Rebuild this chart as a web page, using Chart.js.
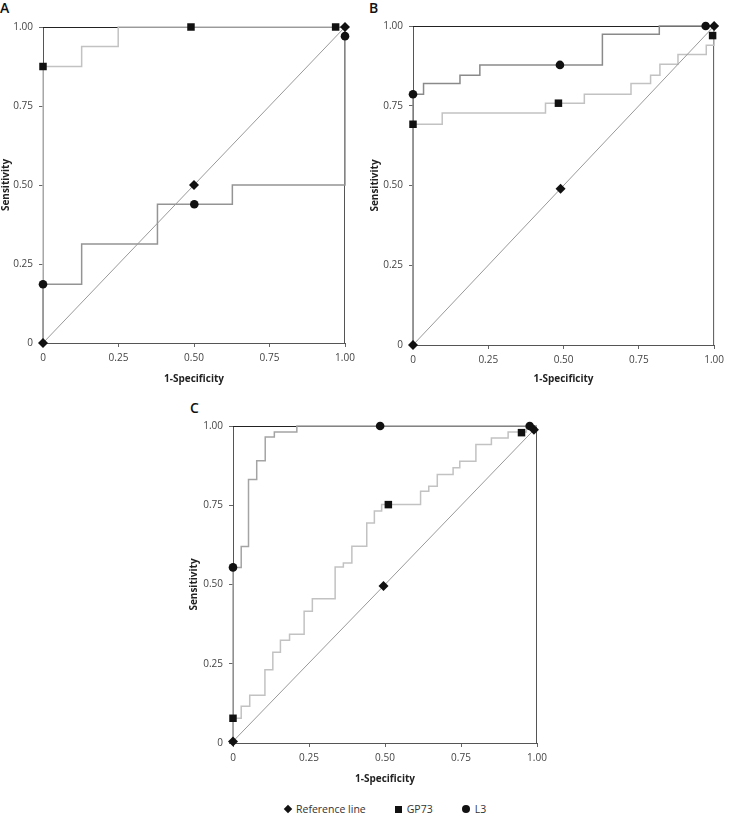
<!DOCTYPE html>
<html lang="en">
<head>
<meta charset="UTF-8">
<title>ROC curves - GP73 and L3</title>
<script src="https://cdn.jsdelivr.net/npm/chart.js"></script>
<style>
  html, body { margin: 0; padding: 0; background: #fff; overflow: hidden; }
  body { width: 729px; height: 815px; position: relative; font-family: "Open Sans", sans-serif; }
  canvas { position: absolute; }
  .tag { position: absolute; font-size: 14px; font-weight: 600; line-height: 14px; color: #111; }
  .legend { position: absolute; left: 285px; top: 802px; height: 14px; display: flex; align-items: center; font-size: 10.5px; color: #333; }
  .legend .item { display: flex; align-items: center; margin-right: 29px; }
  .mk { display: inline-block; background: #111; margin-right: 5px; }
  .mk.diamond { width: 6px; height: 6px; transform: rotate(45deg); }
  .mk.square { width: 7px; height: 7px; }
  .mk.circle { width: 8px; height: 8px; border-radius: 50%; }
</style>
</head>
<body>
  <div class="tag" style="left:0;top:1px">A</div>
  <div class="tag" style="left:369px;top:1px">B</div>
  <div class="tag" style="left:190px;top:401px">C</div>

  <canvas id="rocA" width="365" height="385" style="left:0;top:0"></canvas>
  <canvas id="rocB" width="360" height="385" style="left:369px;top:0"></canvas>
  <canvas id="rocC" width="370" height="395" style="left:188px;top:390px"></canvas>

  <div class="legend">
    <span class="item"><span class="mk diamond"></span>Reference line</span>
    <span class="item"><span class="mk square"></span>GP73</span>
    <span class="item"><span class="mk circle"></span>L3</span>
  </div>

<script>
// tick labels (same on both axes)
const tickLabels = ['0', '0.25', '0.50', '0.75', '1.00'];

// --- Panel A ---
const refA_x = [0, 0.5, 1];
const refA_y = [0, 0.5, 1];
const gpA_x = [0, 0, 0.128, 0.249, 1];
const gpA_y = [0, 0.875, 0.938, 1, 1];
const l3A_x = [0, 0, 0.128, 0.379, 0.627, 1];
const l3A_y = [0, 0.186, 0.313, 0.439, 0.5, 1];
const gpMarkA_x = [0, 0.49, 0.969];
const gpMarkA_y = [0.875, 1, 1];
const l3MarkA_x = [0, 0.501, 1];
const l3MarkA_y = [0.186, 0.439, 0.971];

// --- Panel B ---
const refB_x = [0, 0.49, 1];
const refB_y = [0, 0.49, 1];
const gpB_x = [0, 0, 0.097, 0.44, 0.569, 0.724, 0.789, 0.82, 0.88, 0.974, 1];
const gpB_y = [0, 0.692, 0.727, 0.758, 0.786, 0.82, 0.846, 0.88, 0.911, 0.94, 1];
const l3B_x = [0, 0, 0.035, 0.156, 0.222, 0.629, 0.818, 1];
const l3B_y = [0, 0.786, 0.82, 0.846, 0.878, 0.974, 1, 1];
const gpMarkB_x = [0, 0.483, 0.995];
const gpMarkB_y = [0.692, 0.758, 0.97];
const l3MarkB_x = [0, 0.488, 0.972];
const l3MarkB_y = [0.786, 0.878, 1];

// --- Panel C ---
const refC_x = [0, 0.495, 0.99];
const refC_y = [0.005, 0.495, 0.988];
const gpC_x = [0, 0, 0.027, 0.055, 0.105, 0.131, 0.156, 0.186, 0.234, 0.261, 0.336, 0.363, 0.391,
               0.44, 0.465, 0.489, 0.617, 0.644, 0.672, 0.724, 0.746, 0.799, 0.85, 0.905, 0.965, 1];
const gpC_y = [0, 0.078, 0.116, 0.151, 0.231, 0.286, 0.324, 0.343, 0.416, 0.455, 0.555, 0.568, 0.621,
               0.694, 0.732, 0.752, 0.794, 0.81, 0.847, 0.868, 0.889, 0.942, 0.962, 0.981, 1, 1];
const l3C_x = [0, 0, 0.027, 0.051, 0.078, 0.106, 0.136, 0.21, 1];
const l3C_y = [0, 0.554, 0.62, 0.831, 0.89, 0.965, 0.981, 1, 1];
const gpMarkC_x = [0, 0.511, 0.949];
const gpMarkC_y = [0.078, 0.752, 0.979];
const l3MarkC_x = [0, 0.484, 0.976];
const l3MarkC_y = [0.554, 1, 1];

const pts = (xs, ys) => xs.map((x, i) => ({ x: x, y: ys[i] }));

// top and right edges of the plot box
const framePlugin = {
    id: 'frame',
    beforeDatasetsDraw(chart) {
        const a = chart.chartArea, ctx = chart.ctx;
        ctx.save();
        ctx.lineWidth = 1;
        ctx.strokeStyle = '#222';
        ctx.beginPath();
        ctx.moveTo(a.left, a.top + 0.5);
        ctx.lineTo(a.right, a.top + 0.5);
        ctx.stroke();
        ctx.strokeStyle = '#555';
        ctx.beginPath();
        ctx.moveTo(a.right - 0.5, a.top);
        ctx.lineTo(a.right - 0.5, a.bottom);
        ctx.stroke();
        ctx.restore();
    }
};

function axis(title, fitSize, isX) {
    return {
        type: 'linear',
        min: 0,
        max: 1,
        grid: { drawOnChartArea: false, drawTicks: true, tickLength: 4, color: '#666' },
        border: { display: true, color: '#555', width: 1 },
        ticks: {
            stepSize: 0.25,
            autoSkip: false,
            maxRotation: 0,
            padding: isX ? 5 : 6,
            color: '#444',
            font: { family: 'Open Sans', size: 10 },
            callback: (v, i) => tickLabels[i]
        },
        title: {
            display: true,
            text: title,
            color: '#222',
            padding: 0,
            font: { family: 'Open Sans', size: 10, weight: 'bold' }
        },
        afterFit: s => { if (isX) s.height = fitSize; else s.width = fitSize; }
    };
}

function makePanel(id, d) {
    new Chart(document.getElementById(id), {
        type: 'line',
        data: {
            datasets: [
                { label: 'L3', data: pts(d.l3mx, d.l3my), showLine: false, pointStyle: 'circle',
                  pointRadius: 4.3, pointBackgroundColor: '#111', pointBorderWidth: 0, clip: false },
                { label: 'GP73', data: pts(d.gpmx, d.gpmy), showLine: false, pointStyle: 'rect',
                  pointRadius: 5.3, pointBackgroundColor: '#111', pointBorderWidth: 0, clip: false },
                { label: 'Reference line', data: pts(d.rx, d.ry), borderColor: '#999', borderWidth: 1,
                  pointStyle: 'rectRot', pointRadius: 5, pointBackgroundColor: '#111', pointBorderWidth: 0,
                  clip: false },
                { label: 'L3 curve', data: pts(d.l3x, d.l3y), stepped: true, borderColor: d.l3Color,
                  borderWidth: 1.5, pointRadius: 0, clip: false },
                { label: 'GP73 curve', data: pts(d.gpx, d.gpy), stepped: true, borderColor: '#c2c2c2',
                  borderWidth: 1.5, pointRadius: 0, clip: false }
            ]
        },
        options: {
            responsive: false,
            animation: false,
            layout: { padding: d.pad },
            plugins: { legend: { display: false }, tooltip: { enabled: false } },
            scales: {
                x: axis('1-Specificity', d.xh, true),
                y: axis('Sensitivity', d.yw, false)
            }
        },
        plugins: [framePlugin]
    });
}

makePanel('rocA', {
    rx: refA_x, ry: refA_y, gpx: gpA_x, gpy: gpA_y, l3x: l3A_x, l3y: l3A_y,
    gpmx: gpMarkA_x, gpmy: gpMarkA_y, l3mx: l3MarkA_x, l3my: l3MarkA_y, l3Color: '#949494',
    pad: { top: 27, right: 20, left: 0, bottom: 0 }, xh: 42, yw: 43
});
makePanel('rocB', {
    rx: refB_x, ry: refB_y, gpx: gpB_x, gpy: gpB_y, l3x: l3B_x, l3y: l3B_y,
    gpmx: gpMarkB_x, gpmy: gpMarkB_y, l3mx: l3MarkB_x, l3my: l3MarkB_y, l3Color: '#8a8a8a',
    pad: { top: 26, right: 13, left: 0, bottom: 0 }, xh: 40, yw: 44
});
makePanel('rocC', {
    rx: refC_x, ry: refC_y, gpx: gpC_x, gpy: gpC_y, l3x: l3C_x, l3y: l3C_y,
    gpmx: gpMarkC_x, gpmy: gpMarkC_y, l3mx: l3MarkC_x, l3my: l3MarkC_y, l3Color: '#a4a4a4',
    pad: { top: 36, right: 21, left: 0, bottom: 0 }, xh: 42, yw: 45
});
</script>
</body>
</html>
